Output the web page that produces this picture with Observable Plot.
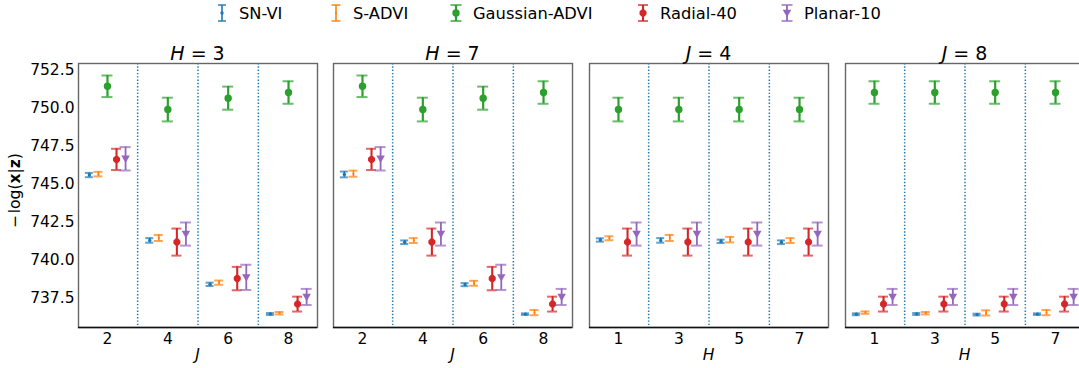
<!DOCTYPE html>
<html><head><meta charset="utf-8">
<script src="https://cdn.jsdelivr.net/npm/d3@7"></script>
<script src="https://cdn.jsdelivr.net/npm/@observablehq/plot@0.6"></script>
<style>
body{margin:0;background:#fff;overflow:hidden;font-family:"DejaVu Sans",sans-serif;}
#fig{position:relative;width:1079px;height:368px;overflow:hidden;background:#fff;}
.panel{position:absolute;}
.leg{position:absolute;top:0;height:26px;display:flex;align-items:center;font-size:16.3px;color:#000;white-space:nowrap;}
.leg svg{display:block;}
.leg span{margin-left:9px;}
</style></head><body><div id="fig"></div>
<script>
// ---------------- data ----------------
const methods = ["SN-VI", "S-ADVI", "Gaussian-ADVI", "Radial-40", "Planar-10"];
const colors = ["#1f77b4", "#ff7f0e", "#2ca02c", "#d62728", "#9467bd"];
const jGroups = [2, 4, 6, 8];
const hGroups = [1, 3, 5, 7];
const yTicks = [737.5, 740.0, 742.5, 745.0, 747.5, 750.0, 752.5];

// Panel H = 3 (x = J)
const h3_snvi = [745.56, 741.26, 738.37, 736.42];
const h3_snvi_err = [0.14, 0.15, 0.11, 0.06];
const h3_sadvi = [745.62, 741.42, 738.48, 736.47];
const h3_sadvi_err = [0.15, 0.20, 0.14, 0.08];
const h3_gauss = [751.40, 749.87, 750.62, 750.99];
const h3_gauss_err = [0.71, 0.78, 0.76, 0.74];
const h3_radial = [746.59, 741.15, 738.75, 737.07];
const h3_radial_err = [0.70, 0.89, 0.77, 0.49];
const h3_planar = [746.63, 741.68, 738.83, 737.54];
const h3_planar_err = [0.77, 0.76, 0.83, 0.53];

// Panel H = 7 (x = J)
const h7_snvi = [745.60, 741.14, 738.35, 736.41];
const h7_snvi_err = [0.19, 0.12, 0.10, 0.05];
const h7_sadvi = [745.65, 741.25, 738.44, 736.51];
const h7_sadvi_err = [0.20, 0.16, 0.16, 0.17];
const h7_gauss = [751.40, 749.87, 750.62, 750.99];
const h7_gauss_err = [0.71, 0.78, 0.76, 0.74];
const h7_radial = [746.59, 741.15, 738.75, 737.07];
const h7_radial_err = [0.70, 0.89, 0.77, 0.49];
const h7_planar = [746.63, 741.68, 738.83, 737.54];
const h7_planar_err = [0.77, 0.76, 0.83, 0.53];

// Panel J = 4 (x = H)
const j4_snvi = [741.29, 741.26, 741.20, 741.14];
const j4_snvi_err = [0.11, 0.15, 0.11, 0.12];
const j4_sadvi = [741.40, 741.42, 741.31, 741.25];
const j4_sadvi_err = [0.13, 0.20, 0.18, 0.16];
const j4_gauss = [749.87, 749.87, 749.87, 749.87];
const j4_gauss_err = [0.78, 0.78, 0.78, 0.78];
const j4_radial = [741.15, 741.15, 741.15, 741.15];
const j4_radial_err = [0.89, 0.89, 0.89, 0.89];
const j4_planar = [741.68, 741.68, 741.68, 741.68];
const j4_planar_err = [0.76, 0.76, 0.76, 0.76];

// Panel J = 8 (x = H)
const j8_snvi = [736.40, 736.42, 736.38, 736.41];
const j8_snvi_err = [0.06, 0.06, 0.06, 0.05];
const j8_sadvi = [736.51, 736.47, 736.49, 736.51];
const j8_sadvi_err = [0.08, 0.08, 0.17, 0.17];
const j8_gauss = [750.99, 750.99, 750.99, 750.99];
const j8_gauss_err = [0.74, 0.74, 0.74, 0.74];
const j8_radial = [737.07, 737.07, 737.07, 737.07];
const j8_radial_err = [0.49, 0.49, 0.49, 0.49];
const j8_planar = [737.54, 737.54, 737.54, 737.54];
const j8_planar_err = [0.53, 0.53, 0.53, 0.53];

const panels = [
  {name: "H", val: "3", xName: "J", groups: jGroups,
   means: [h3_snvi, h3_sadvi, h3_gauss, h3_radial, h3_planar],
   errs: [h3_snvi_err, h3_sadvi_err, h3_gauss_err, h3_radial_err, h3_planar_err]},
  {name: "H", val: "7", xName: "J", groups: jGroups,
   means: [h7_snvi, h7_sadvi, h7_gauss, h7_radial, h7_planar],
   errs: [h7_snvi_err, h7_sadvi_err, h7_gauss_err, h7_radial_err, h7_planar_err]},
  {name: "J", val: "4", xName: "H", groups: hGroups,
   means: [j4_snvi, j4_sadvi, j4_gauss, j4_radial, j4_planar],
   errs: [j4_snvi_err, j4_sadvi_err, j4_gauss_err, j4_radial_err, j4_planar_err]},
  {name: "J", val: "8", xName: "H", groups: hGroups,
   means: [j8_snvi, j8_sadvi, j8_gauss, j8_radial, j8_planar],
   errs: [j8_snvi_err, j8_sadvi_err, j8_gauss_err, j8_radial_err, j8_planar_err]}
];

// ---------------- styling ----------------
const offsets = [-0.6, -0.3, 0, 0.3, 0.6];
const octagon = {draw(ctx, size) {
  const r = Math.sqrt(size / Math.PI) * 1.05;
  for (let i = 0; i < 8; i++) {
    const a = Math.PI / 8 + i * Math.PI / 4;
    const x = r * Math.cos(a), y = r * Math.sin(a);
    i ? ctx.lineTo(x, y) : ctx.moveTo(x, y);
  }
  ctx.closePath();
}};
const triDown = {draw(ctx, size) {
  const r = Math.sqrt(size / Math.PI) * 1.25;
  ctx.moveTo(-r, -r * 0.75);
  ctx.lineTo(r, -r * 0.75);
  ctx.lineTo(0, r);
  ctx.closePath();
}};
const styles = [
  {lw: 1.6, cap: 4, r: 1.7, symbol: "circle"},
  {lw: 1.6, cap: 4.5, r: 1.0, symbol: "circle"},
  {lw: 2.2, cap: 5.5, r: 3.7, symbol: "circle"},
  {lw: 2.1, cap: 5, r: 3.6, symbol: octagon},
  {lw: 1.8, cap: 5.5, r: 3.4, symbol: triDown}
];

const fig = document.getElementById("fig");
const frameLefts = [77.7, 333.3, 589.3, 845.3];
const frameW = 239, frameH = 264, frameTop = 62.5;
const mT = 40, mB = 42;

// shared y domain: data extent with 5% margins
let lo = Infinity, hi = -Infinity;
panels.forEach(p => p.means.forEach((arr, k) => arr.forEach((v, j) => {
  lo = Math.min(lo, v - p.errs[k][j]); hi = Math.max(hi, v + p.errs[k][j]);
})));
const pad = (hi - lo) * 0.05;
const yDomain = [lo - pad, hi + pad];

panels.forEach((p, i) => {
  const mL = i === 0 ? 78 : 2, mR = 2;
  const rows = [];
  p.means.forEach((arr, k) => arr.forEach((v, j) => rows.push({
    k, x: p.groups[j] + offsets[k], y: v, lo: v - p.errs[k][j], hi: v + p.errs[k][j]
  })));
  const xmin = d3.min(rows, d => d.x), xmax = d3.max(rows, d => d.x);
  const xp = (xmax - xmin) * 0.05;
  const dividers = d3.pairs(p.groups).map(([a, b]) => (a + b) / 2);

  const marks = [
    Plot.ruleX(dividers, {stroke: colors[0], strokeWidth: 1.5, strokeDasharray: "1.4,1.9"})
  ];
  methods.forEach((m, k) => {
    const r = rows.filter(d => d.k === k);
    const st = styles[k];
    marks.push(Plot.ruleX(r, {x: "x", y1: "lo", y2: "hi", stroke: colors[k], strokeWidth: st.lw}));
    for (const end of ["lo", "hi"]) {
      marks.push(Plot.ruleY(r, {y: end, x1: "x", x2: "x", insetLeft: -st.cap, insetRight: -st.cap,
        stroke: colors[k], strokeWidth: 2, strokeOpacity: 0.7}));
    }
    marks.push(Plot.dot(r, {x: "x", y: "y", r: st.r, symbol: st.symbol, fill: colors[k], stroke: "none"}));
  });
  marks.push(Plot.frame({stroke: "#666", strokeWidth: 1.4}));
  marks.push(Plot.ruleY([yDomain[0]], {stroke: "#111", strokeWidth: 1.4}));
  marks.push(Plot.axisX({ticks: p.groups, tickFormat: d => String(d), tickSize: 0, tickPadding: 5, label: null}));
  if (i === 0) marks.push(Plot.axisY({ticks: yTicks, tickFormat: d3.format(".1f"), tickSize: 0, tickPadding: 4, label: null}));

  const svg = Plot.plot({
    width: frameW + mL + mR, height: frameH + mT + mB,
    marginLeft: mL, marginRight: mR, marginTop: mT, marginBottom: mB,
    x: {domain: [xmin - xp, xmax + xp]},
    y: i === 0 ? {domain: yDomain} : {domain: yDomain, axis: null},
    style: {fontFamily: "DejaVu Sans", fontSize: "15.5px", color: "#000", background: "transparent", overflow: "visible"},
    marks
  });
  const s = d3.select(svg);
  const title = s.append("text").attr("x", mL + frameW / 2).attr("y", mT - 3.5)
    .attr("text-anchor", "middle").style("font-size", "19px").attr("fill", "#000");
  title.append("tspan").attr("font-style", "italic").text(p.name);
  title.append("tspan").text(" = " + p.val);
  s.append("text").attr("x", mL + frameW / 2).attr("y", mT + frameH + 33)
    .attr("text-anchor", "middle").attr("font-style", "italic").style("font-size", "15.5px")
    .attr("fill", "#000").text(p.xName);
  if (i === 0) {
    const yl = s.append("text").attr("transform", `translate(20,${190 - (frameTop - mT)}) rotate(-90)`)
      .attr("text-anchor", "middle").style("font-size", "15.5px").attr("fill", "#000");
    yl.append("tspan").text("\u2212\u200Alog(");
    yl.append("tspan").attr("font-weight", "bold").text("x");
    yl.append("tspan").text("|");
    yl.append("tspan").attr("font-weight", "bold").text("z");
    yl.append("tspan").text(")");
  }
  svg.classList.add("panel");
  svg.style.left = (frameLefts[i] - mL) + "px";
  svg.style.top = (frameTop - mT) + "px";
  fig.appendChild(svg);
});

// ---------------- legend ----------------
const legX = [214, 328, 448, 635, 779];
methods.forEach((m, k) => {
  const div = document.createElement("div");
  div.className = "leg";
  div.style.left = legX[k] + "px";
  const st = styles[k];
  const g = d3.create("svg").attr("width", 16).attr("height", 24);
  g.append("line").attr("x1", 8).attr("x2", 8).attr("y1", 4).attr("y2", 20)
    .attr("stroke", colors[k]).attr("stroke-width", st.lw);
  for (const y of [4, 20]) g.append("line").attr("x1", 8 - st.cap).attr("x2", 8 + st.cap)
    .attr("y1", y).attr("y2", y).attr("stroke", colors[k]).attr("stroke-width", 2).attr("stroke-opacity", 0.7);
  const sym = typeof st.symbol === "string" ? d3.symbolCircle : st.symbol;
  g.append("path").attr("transform", "translate(8,12)")
    .attr("d", d3.symbol(sym, Math.PI * st.r * st.r)()).attr("fill", colors[k]);
  div.appendChild(g.node());
  const span = document.createElement("span");
  span.textContent = m;
  div.appendChild(span);
  fig.appendChild(div);
});
</script></body></html>
